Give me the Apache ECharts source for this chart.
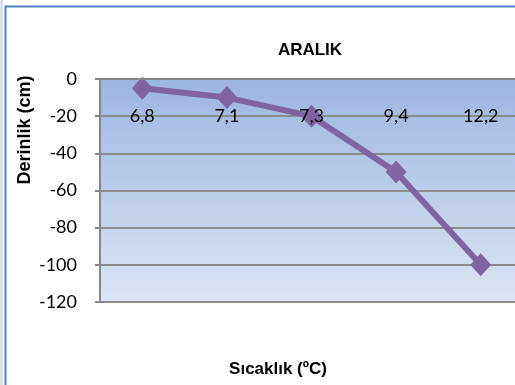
<!DOCTYPE html>
<html>
<head>
<meta charset="utf-8">
<script src="https://cdn.jsdelivr.net/npm/echarts@6/dist/echarts.min.js"></script>
<style>
  html, body { margin: 0; padding: 0; background: #fff; }
  #chart { width: 515px; height: 385px; }
</style>
</head>
<body>
<div id="chart"></div>
<script>
// sıcaklık kategorileri ve derinlik değerleri
var categories = ['6,8', '7,1', '7,3', '9,4', '12,2'];
var depths = [-5, -10, -20, -50, -100];
var yTicks = [0, -20, -40, -60, -80, -100, -120];

var FONT = 'Lato, "Open Sans", sans-serif';
var BOLD_FONT = '"Liberation Sans", Arial, sans-serif';

var myChart = echarts.init(document.getElementById('chart'));

var option = {
  backgroundColor: '#ffffff',
  animation: false,
  graphic: [
    {
      type: 'rect',
      shape: { x: 1.5, y: -20, width: 600, height: 500 },
      style: { fill: 'none', stroke: '#C9D6EA', lineWidth: 2 },
      silent: true
    },
    {
      type: 'rect',
      shape: { x: 5.5, y: 6.5, width: 600, height: 500 },
      style: { fill: 'none', stroke: '#4F81BD', lineWidth: 2 },
      silent: true
    },
    {
      type: 'text',
      x: 310, y: 50,
      style: { text: 'ARALIK', fontSize: 17, fontWeight: 'bold', fontFamily: BOLD_FONT, fill: '#000', align: 'center', verticalAlign: 'middle' }
    },
    {
      type: 'text',
      x: 278, y: 369,
      style: { text: 'Sıcaklık (ºC)', fontSize: 17, fontWeight: 'bold', fontFamily: BOLD_FONT, fill: '#000', align: 'center', verticalAlign: 'middle' }
    },
    {
      type: 'text',
      x: 25, y: 130,
      rotation: Math.PI / 2,
      style: { text: 'Derinlik (cm)', fontSize: 18, fontWeight: 'bold', fontFamily: BOLD_FONT, fill: '#000', align: 'center', verticalAlign: 'middle' }
    }
  ],
  grid: {
    left: 100,
    top: 79,
    width: 423,
    bottom: 83,
    outerBoundsMode: 'none',
    containLabel: false,
    show: true,
    borderColor: '#4F81BD',
    borderWidth: 2,
    backgroundColor: {
      type: 'linear', x: 0, y: 0, x2: 0, y2: 1,
      colorStops: [
        { offset: 0, color: '#9BB5E2' },
        { offset: 1, color: '#DDE5F3' }
      ]
    }
  },
  xAxis: {
    type: 'category',
    position: 'top',
    data: categories,
    boundaryGap: true,
    z: 5,
    axisLine: { lineStyle: { color: '#868686', width: 2 } },
    axisTick: { show: false },
    axisLabel: {
      inside: true,
      margin: 28,
      color: '#000',
      fontSize: 18,
      fontFamily: FONT
    },
    splitLine: { show: false }
  },
  yAxis: {
    type: 'value',
    min: -120,
    max: 0,
    interval: 20,
    axisLine: { show: true, lineStyle: { color: '#868686', width: 2 } },
    axisTick: { show: true, length: 5, lineStyle: { color: '#868686', width: 2 } },
    axisLabel: {
      margin: 23,
      color: '#000',
      fontSize: 18,
      fontFamily: FONT,
      formatter: function (v) { return yTicks.indexOf(v) >= 0 ? String(v) : ''; }
    },
    splitLine: { show: true, lineStyle: { color: '#8C8C8C', width: 2 } }
  },
  series: [
    {
      name: 'Derinlik',
      type: 'line',
      data: depths,
      symbol: 'diamond',
      symbolSize: [21, 23],
      itemStyle: { color: '#8064A2' },
      lineStyle: { color: '#8064A2', width: 6 }
    }
  ]
};

myChart.setOption(option);
</script>
</body>
</html>
